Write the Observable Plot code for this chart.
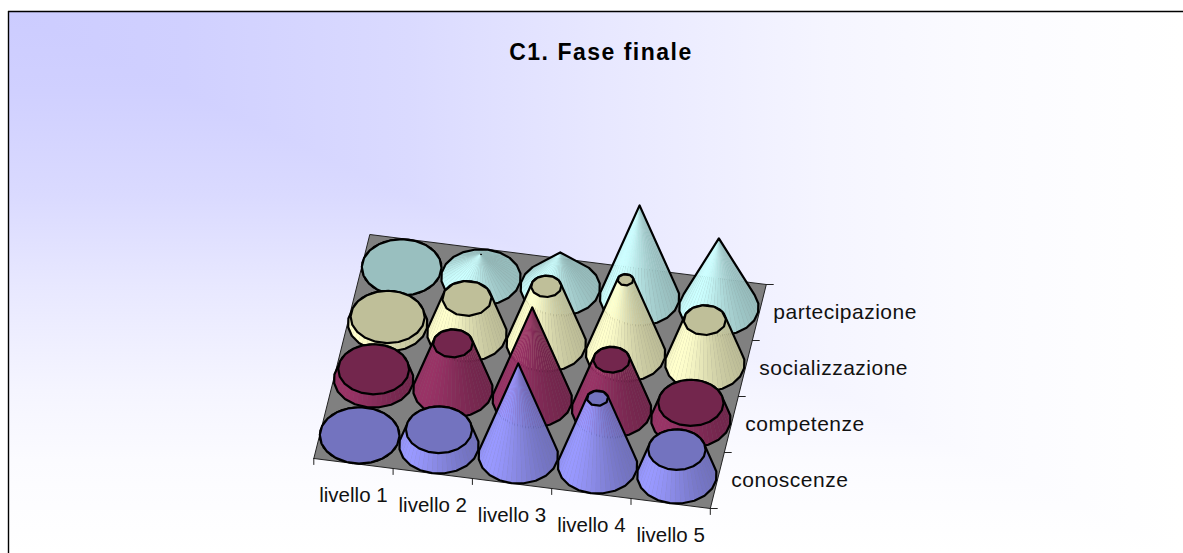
<!DOCTYPE html>
<html>
<head>
<meta charset="utf-8">
<script src="https://cdn.jsdelivr.net/npm/d3@7"></script>
<script src="https://cdn.jsdelivr.net/npm/@observablehq/plot@0.6"></script>
<style>
html,body{margin:0;padding:0;background:#fff;overflow:hidden}
#chart{position:relative;width:1183px;height:553px;
--stops:#ccccff 0%,#d0d0ff 15%,#dadaff 34%,#e8e8ff 51%,#f5f5ff 70%,#fbfbff 83%,#ffffff 100%;
background-image:linear-gradient(to right,var(--stops)),linear-gradient(to bottom,var(--stops));
background-blend-mode:lighten;
background-position:8px 11px;background-size:1175px 542px;background-repeat:no-repeat}
#title{position:absolute;left:0;top:39px;width:1202px;text-align:center;font:bold 23px "Liberation Sans",Arial,sans-serif;letter-spacing:1.5px;color:#000}
.series-label{letter-spacing:.5px}
</style>
</head>
<body>
<div id="chart"></div>
<script>
const categories = ["livello 1","livello 2","livello 3","livello 4","livello 5"];
const seriesNames = ["conoscenze","competenze","socializzazione","partecipazione"];
const conoscenze = [0,17,100,73,28];
const competenze = [11,50,100,54,18];
const socializzazione = [7,38,62,80,47];
const partecipazione = [0,25,38,100,75];
const seriesValues = [conoscenze,competenze,socializzazione,partecipazione];
const sideColors = ["#9999ff","#993366","#ffffcc","#ccffff"];
const pointed = [false,false,false,true];
const axisMax = 100;

const ux=79.3, uy=10, vx=14, vy=-56, H=92, R=0.495;
const pX=(c,s)=>c*ux+s*vx;
const pY=(c,s,v=0)=>c*uy+s*vy-(v/axisMax)*H;

function shade(hex,a){
  const a0=-135*Math.PI/180;
  const t=.5+.5*Math.cos(a-a0);
  const f=.74+.26*Math.pow(t,2.5);
  const c=d3.rgb(hex);
  return d3.rgb(c.r*f,c.g*f,c.b*f).formatHex();
}
const polys=[];let pid=0;
function poly(pts,fill,stroke,sw){
  const id=pid++;
  pts.concat([pts[0]]).forEach(p=>polys.push({id,x:p[0],y:p[1],fill,stroke,sw}));
}
const ring=(c,s,v,k,n,off=0)=>d3.range(n).map(i=>{
  const a=off+i/n*2*Math.PI;
  const cc=c+.49+R*k*Math.cos(a), ss=s+.5+R*k*Math.sin(a);
  return [pX(cc,ss),pY(cc,ss,v)];
});
const NF=48;
seriesNames.map((_,s)=>s).reverse().forEach(s=>{
  categories.forEach((_,c)=>{
    const val=seriesValues[s][c];
    const col=sideColors[s];
    const k=val===0?1:(pointed[s]?0:1-val/axisMax);
    const base=ring(c,s,0,1,NF), top=ring(c,s,val,k,NF);
    const quad=i=>{const j=(i+1)%NF;return [base[i],base[j],top[j],top[i]];};
    const frontSign=Math.sign(d3.polygonArea(quad(Math.round(NF*3/4))));
    if(val>0) d3.range(NF).forEach(i=>{
      const q=quad(i);
      if(Math.sign(d3.polygonArea(q))!==frontSign) return;
      const f=shade(col,(i+.5)/NF*2*Math.PI);
      poly(q,f,f,.35);
    });
    const outline=d3.polygonHull(ring(c,s,0,1,20).concat(ring(c,s,val,k,20)));
    poly(outline,"none","#000",2.2);
    const tc=d3.rgb(col);
    const topFill=d3.rgb(tc.r*.75,tc.g*.75,tc.b*.75).formatHex();
    const ns=k<.35?8:(k<.7?12:20);
    if(!pointed[s]||val===0){
      if(k>0) poly(ring(c,s,val,k,ns,Math.PI/ns),topFill,"#000",2.2);
    } else if(val<30){
      poly(ring(c,s,val,.012,6),"#000","#000",1);
    }
  });
});
const nC=categories.length,nS=seriesNames.length;
const floor=[[0,0],[nC,0],[nC,nS],[0,nS],[0,0]].map(([c,s])=>({x:pX(c,s),y:pY(c,s)}));
const xTicks=d3.range(nC+1).map(c=>({x:pX(c,0),y:pY(c,0)}));
const sTicks=d3.range(nS+1).map(s=>({x:pX(nC,s),y:pY(nC,s)}));
const tickShape={draw(ctx,l){ctx.moveTo(0,0);ctx.lineTo(0,-l);}};

const plot=Plot.plot({
  width:1183,height:553,margin:0,
  x:{axis:null,domain:[-313.3,869.7],range:[0,1183]},
  y:{axis:null,domain:[-458,95],range:[0,553]},
  color:{type:"identity"},
  style:{background:"transparent"},
  marks:[
    Plot.ruleX([-305.3],{y1:-447,y2:95,stroke:"#000",strokeWidth:1.4}),
    Plot.ruleY([-447],{x1:-305.3,x2:869.7,stroke:"#000",strokeWidth:1.4}),
    Plot.line(floor,{x:"x",y:"y",fill:"#808080",stroke:"#222",strokeWidth:1}),
    Plot.vector(xTicks,{x:"x",y:"y",length:6,rotate:180,shape:tickShape,anchor:"start",stroke:"#222",strokeWidth:1}),
    Plot.vector(sTicks,{x:"x",y:"y",length:7,rotate:90,shape:tickShape,anchor:"start",stroke:"#222",strokeWidth:1}),
    Plot.line(polys,{x:"x",y:"y",z:"id",fill:"fill",stroke:"stroke",strokeWidth:"sw",strokeLinejoin:"round"}),
    Plot.text(categories,{x:(d,i)=>pX(i+.5,0),y:(d,i)=>pY(i+.5,0),text:d=>d,dy:32,fontSize:20.5,fontFamily:"Liberation Sans, Arial, sans-serif",fill:"#111",textAnchor:"middle"}),
    Plot.text(seriesNames,{x:(d,i)=>pX(nC,i+.5),y:(d,i)=>pY(nC,i+.5),text:d=>d,dx:14,fontSize:21,fontFamily:"Liberation Sans, Arial, sans-serif",fill:"#111",textAnchor:"start",className:"series-label"})
  ]
});
document.getElementById("chart").appendChild(plot);
const t=document.createElement("div");t.id="title";t.textContent="C1. Fase finale";document.getElementById("chart").appendChild(t);
</script>
</body>
</html>
